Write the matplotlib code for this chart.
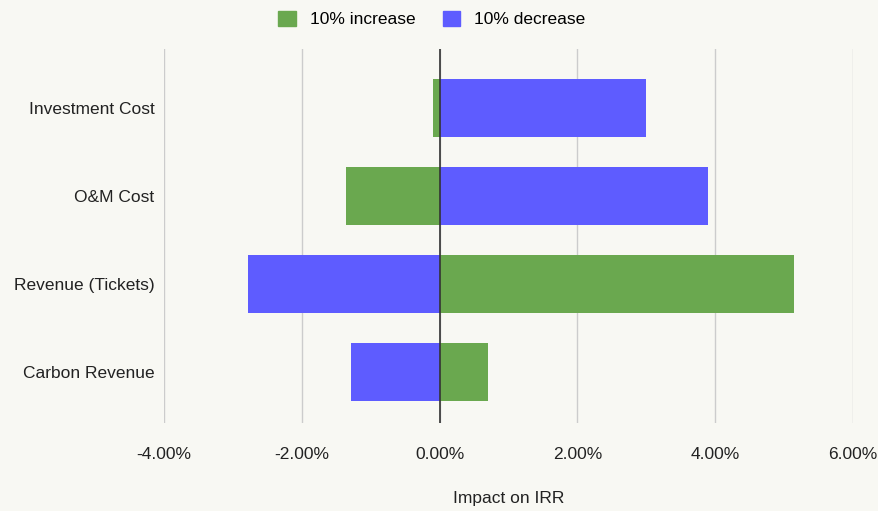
import numpy as np
import matplotlib.pyplot as plt
from matplotlib.patches import Patch
from matplotlib.ticker import FuncFormatter

plt.rcParams['font.family'] = ['Liberation Sans', 'DejaVu Sans']

# sensitivity of IRR to +/-10% changes in each driver (percentage points)
drivers = ['Investment Cost', 'O&M Cost', 'Revenue (Tickets)', 'Carbon Revenue']
increase = [-0.09, -1.36, 5.14, 0.70]
decrease = [2.99, 3.90, -2.78, -1.29]

green = '#6aa84f'
blue = '#5e5cff'
bg = '#f8f8f3'
fs = 12.5

fig = plt.figure(figsize=(8.79, 5.11), dpi=100, facecolor=bg)
ax = fig.add_axes([164 / 879, 1 - 423 / 511, (853 - 164) / 879, (423 - 49) / 511])
ax.set_facecolor(bg)

y = np.arange(len(drivers))
ax.barh(y, increase, height=0.65, color=green, zorder=3)
ax.barh(y, decrease, height=0.65, color=blue, zorder=3)

ax.set_xlim(-4, 6)
ax.set_ylim(3.58, -0.67)
ax.set_xticks([-4, -2, 0, 2, 4, 6])
ax.xaxis.set_major_formatter(FuncFormatter(lambda v, p: f'{v:.2f}%'))
ax.set_yticks(y)
ax.set_yticklabels(drivers)

ax.grid(axis='x', color='#cccccc', linewidth=1, zorder=0)
ax.axvline(0, color='#333333', linewidth=1.2, zorder=4)
for s in ax.spines.values():
    s.set_visible(False)
ax.tick_params(length=0, labelsize=fs, colors='#222222')
ax.tick_params(axis='x', pad=17)
ax.tick_params(axis='y', pad=7)

ax.set_xlabel('Impact on IRR', fontsize=fs, color='#222222', labelpad=21)

handles = [Patch(color=green, label='10% increase'), Patch(color=blue, label='10% decrease')]
fig.legend(handles=handles, loc='center', bbox_to_anchor=(432 / 879, 1 - 19 / 511), ncol=2,
           frameon=False, fontsize=fs, handlelength=1.0, handleheight=1.0,
           columnspacing=1.6, handletextpad=0.8)

fig.savefig('out.png', dpi=100, facecolor=bg)
